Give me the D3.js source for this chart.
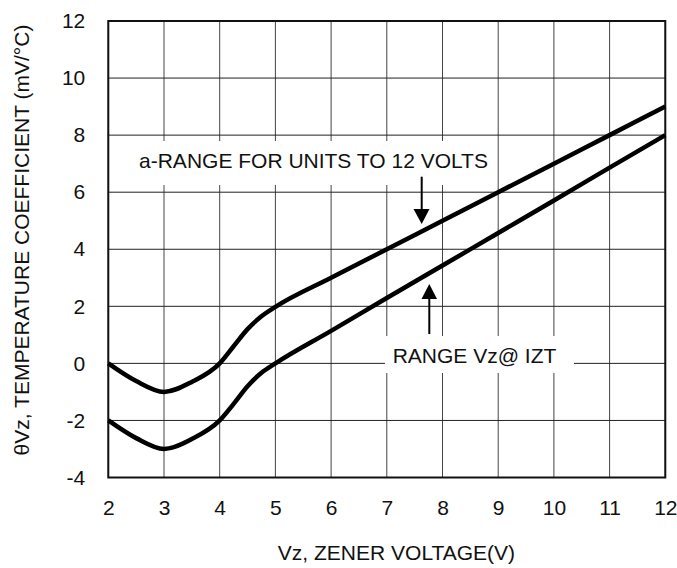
<!DOCTYPE html>
<html><head><meta charset="utf-8">
<script src="https://cdn.jsdelivr.net/npm/d3@7"></script>
<style>body{margin:0;background:#fff}svg{display:block}text{font-family:Arial,"Liberation Sans",sans-serif;fill:#111}</style>
</head><body><svg id="c" width="677" height="568"></svg>
<script>
const xTicks = [2,3,4,5,6,7,8,9,10,11,12];
const yTicks = [-4,-2,0,2,4,6,8,10,12];
const upperX = [2,2.5,3,3.5,4,4.25,4.5,4.75,5,6,7,8,9,10,11,12];
const upperY = [0,-0.62,-1,-0.65,0,0.6,1.2,1.65,1.98,3,4,5,6,7,8,9];
const lowerX = [2,2.5,3,3.5,4,4.25,4.5,4.75,5,6,7,8,9,10,11,12];
const lowerY = [-2,-2.62,-3,-2.65,-2,-1.42,-0.8,-0.33,0,1.14,2.29,3.43,4.57,5.71,6.86,8];
const xTitle = "Vz, ZENER VOLTAGE(V)";
const yTitle = "θVz, TEMPERATURE COEFFICIENT (mV/°C)";
const note1 = "a-RANGE FOR UNITS TO 12 VOLTS";
const note2 = "RANGE Vz@ IZT";

const FS = 21;
const svg = d3.select("#c");
const x = d3.scaleLinear().domain([2,12]).range([108.3,665.3]);
const y = d3.scaleLinear().domain([-4,12]).range([477.5,21]);

// grid
const g = svg.append("g");
g.selectAll(".vg").data(xTicks).join("line")
  .attr("x1",d=>x(d)).attr("x2",d=>x(d)).attr("y1",y(12)).attr("y2",y(-4))
  .attr("stroke","#444").attr("stroke-width",1);
g.selectAll(".hg").data(yTicks).join("line")
  .attr("y1",d=>y(d)).attr("y2",d=>y(d)).attr("x1",x(2)).attr("x2",x(12))
  .attr("stroke","#222").attr("stroke-width",1);

// white boxes for annotations
svg.append("rect").attr("x",129).attr("y",141).attr("width",367).attr("height",44).attr("fill","#fff");
svg.append("rect").attr("x",385).attr("y",336).attr("width",189).attr("height",37).attr("fill","#fff");

// border
svg.append("rect").attr("x",x(2)).attr("y",y(12)).attr("width",x(12)-x(2)).attr("height",y(-4)-y(12))
  .attr("fill","none").attr("stroke","#111").attr("stroke-width",2);

// axes
const fmt = d => String(d);
const xa = svg.append("g").attr("transform",`translate(0,${y(-4)})`)
  .call(d3.axisBottom(x).tickValues(xTicks).tickSize(0).tickPadding(23).tickFormat(fmt));
xa.select(".domain").remove();
xa.attr("font-size",FS).attr("font-family","Arial, 'Liberation Sans', sans-serif");
xa.selectAll("text").attr("fill","#111");
const ya = svg.append("g").attr("transform",`translate(${x(2)},0)`)
  .call(d3.axisLeft(y).tickValues(yTicks).tickSize(0).tickPadding(23).tickFormat(fmt));
ya.select(".domain").remove();
ya.attr("font-size",FS).attr("font-family","Arial, 'Liberation Sans', sans-serif");
ya.selectAll("text").attr("fill","#111");

// curves
const line = d3.line().x(d=>x(d[0])).y(d=>y(d[1])).curve(d3.curveMonotoneX);
svg.append("path").attr("d",line(upperX.map((v,i)=>[v,upperY[i]])))
  .attr("fill","none").attr("stroke","#000").attr("stroke-width",4.5).attr("stroke-linejoin","round");
svg.append("path").attr("d",line(lowerX.map((v,i)=>[v,lowerY[i]])))
  .attr("fill","none").attr("stroke","#000").attr("stroke-width",4.5).attr("stroke-linejoin","round");

// annotations
svg.append("text").attr("x",313.5).attr("y",168).attr("text-anchor","middle").attr("font-size",FS).text(note1);
svg.append("text").attr("x",474.5).attr("y",363).attr("text-anchor","middle").attr("font-size",FS).text(note2);

// arrows
svg.append("line").attr("x1",421.7).attr("x2",421.7).attr("y1",176.7).attr("y2",212).attr("stroke","#000").attr("stroke-width",2);
svg.append("path").attr("d","M413.5,209 L429.5,209 L421.7,224 Z").attr("fill","#000");
svg.append("line").attr("x1",429.3).attr("x2",429.3).attr("y1",334).attr("y2",296).attr("stroke","#000").attr("stroke-width",2);
svg.append("path").attr("d","M421.5,299 L437,299 L429.3,284 Z").attr("fill","#000");

// titles
svg.append("text").attr("x",396.5).attr("y",560).attr("text-anchor","middle").attr("font-size",FS).text(xTitle);
svg.append("text").attr("transform","translate(28.5,240) rotate(-90)").attr("text-anchor","middle").attr("font-size",FS).text(yTitle);
</script></body></html>
